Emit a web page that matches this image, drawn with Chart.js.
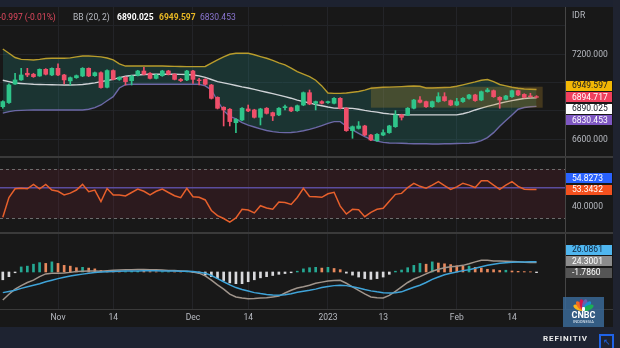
<!DOCTYPE html>
<html lang="en">
<head>
<meta charset="utf-8">
<title>IHSG - BB / RSI / MACD</title>
<script src="https://cdn.jsdelivr.net/npm/chart.js@4.4.1/dist/chart.umd.min.js"></script>
<style>
  html, body { margin: 0; padding: 0; background: #181818; }
  #wrap { position: relative; width: 620px; height: 348px; overflow: hidden; background: #181818;
          font-family: Roboto, "Noto Sans", sans-serif; }
  canvas { position: absolute; left: 0; }
  .blk { position: absolute; }
  #legend span { position: absolute; top: 12px; font-size: 8.5px; line-height: 10px; white-space: nowrap; }
  #idr { position: absolute; left: 572px; top: 10px; font-size: 8.5px; color: #b8bbc2; }
  #logo { position: absolute; left: 563px; top: 297px; width: 41px; height: 30px; background: rgba(58,104,150,0.85); }
  #fan i { position: absolute; left: 18px; top: 2px; width: 5px; height: 11px; border-radius: 50%; transform-origin: 50% 100%; }
  #fan b { position: absolute; left: 19px; top: 10px; width: 3px; height: 4px; background: #fff; border-radius: 1px; }
  #cnbc { position: absolute; left: 0; top: 14px; width: 41px; text-align: center; color: #fff; font-weight: bold; font-size: 9px; line-height: 9px; }
  #indo { position: absolute; left: 0; top: 23px; width: 41px; text-align: center; color: #e6edf5; font-size: 4px; line-height: 4px; }
  #refinitiv { position: absolute; left: 543px; top: 334px; color: #ececec; font-weight: bold; font-size: 8px; letter-spacing: 0.9px; }
  #corner { position: absolute; left: 599px; top: 334px; width: 11px; height: 12px; border: 2px solid #1f63e8; color: #1f63e8; font-size: 9px; line-height: 12px; text-align: center; }
</style>
</head>
<body>
<div id="wrap">
  <div class="blk" style="left:0;top:0;width:620px;height:7px;background:#1d2230"></div>
  <canvas id="cMain" width="620" height="149" style="top:7px"></canvas>
  <div class="blk" style="left:0;top:156px;width:613px;height:2px;background:#3a3a3a"></div>
  <canvas id="cRsi" width="620" height="74" style="top:158px"></canvas>
  <div class="blk" style="left:0;top:232px;width:613px;height:2px;background:#3a3a3a"></div>
  <canvas id="cMacd" width="620" height="93" style="top:234px"></canvas>
  <div class="blk" style="left:0;top:309px;width:613px;height:1px;background:#3a3a3a"></div>
  <div class="blk" style="left:0;top:327px;width:620px;height:21px;background:#1e2331"></div>
  <div class="blk" style="left:613px;top:0;width:7px;height:348px;background:#1f2330"></div>

  <div id="legend">
    <span style="left:-1px;color:#e2495f">-0.997 (-0.01%)</span>
    <span style="left:73px;color:#b8bbc2">BB (20, 2)</span>
    <span style="left:117px;color:#ffffff;font-weight:bold">6890.025</span>
    <span style="left:159px;color:#e9b824;font-weight:bold">6949.597</span>
    <span style="left:200px;color:#8b76d2">6830.453</span>
  </div>
  <div id="idr">IDR</div>

  <div id="logo">
    <div id="fan">
      <i style="background:#f9b51a;transform:rotate(-66deg)"></i>
      <i style="background:#f26b21;transform:rotate(-40deg)"></i>
      <i style="background:#d4154e;transform:rotate(-13deg)"></i>
      <i style="background:#6a5fab;transform:rotate(13deg)"></i>
      <i style="background:#1a8fd2;transform:rotate(40deg)"></i>
      <i style="background:#1cae55;transform:rotate(66deg)"></i>
      <b></b>
    </div>
    <div id="cnbc">CNBC</div>
    <div id="indo">INDONESIA</div>
  </div>
  <div id="refinitiv">REFINITIV</div>
  <div id="corner">↖</div>
</div>

<script>
// trading days shown on the chart
const dates = [
  '2022-10-19','2022-10-20','2022-10-21','2022-10-24','2022-10-25','2022-10-26','2022-10-27','2022-10-28','2022-10-31',
  '2022-11-01','2022-11-02','2022-11-03','2022-11-04','2022-11-07','2022-11-08','2022-11-09','2022-11-10','2022-11-11',
  '2022-11-14','2022-11-15','2022-11-16','2022-11-17','2022-11-18','2022-11-21','2022-11-22','2022-11-23','2022-11-24',
  '2022-11-25','2022-11-28','2022-11-29','2022-11-30',
  '2022-12-01','2022-12-02','2022-12-05','2022-12-06','2022-12-07','2022-12-08','2022-12-09','2022-12-12','2022-12-13',
  '2022-12-14','2022-12-15','2022-12-16','2022-12-19','2022-12-20','2022-12-21','2022-12-22','2022-12-23','2022-12-26',
  '2022-12-27','2022-12-28','2022-12-29','2022-12-30',
  '2023-01-02','2023-01-03','2023-01-04','2023-01-05','2023-01-06','2023-01-09','2023-01-10','2023-01-11','2023-01-12',
  '2023-01-13','2023-01-16','2023-01-17','2023-01-18','2023-01-19','2023-01-20','2023-01-24','2023-01-25','2023-01-26',
  '2023-01-27','2023-01-30','2023-01-31',
  '2023-02-01','2023-02-02','2023-02-03','2023-02-06','2023-02-07','2023-02-08','2023-02-09','2023-02-10','2023-02-13',
  '2023-02-14','2023-02-15','2023-02-16','2023-02-17','2023-02-20'
];
const tickDates  = ['2022-11-01','2022-11-14','2022-12-01','2022-12-14','2023-01-02','2023-01-13','2023-02-01','2023-02-14'];
const tickLabels = ['Nov','14','Dec','14','2023','13','Feb','14'];

const open = [
  6828,6857,6988,7017,7064,7057,7045,7092,7052,7099, 7052,7010,7033,7045,7099,7047,7068,6965,7083,7021,
  7035,7012,7050,7080,7064,7028,7047,7080,7057,7021, 7017,7080,7017,7021,6981,6894,6824,6810,6715,6734,
  6812,6805,6753,6817,6786,6770,6821,6821,6800,6840, 6927,6852,6864,6857,6852,6887,6817,6659,6675,6692,
  6628,6588,6628,6645,6687,6770,6770,6817,6875,6864, 6828,6864,6899,6871,6840,6864,6887,6911,6875,6934,
  6941,6894,6880,6899,6941,6915,6904,6899
];
const high = [
  6870,6990,7064,7099,7099,7064,7095,7097,7102,7130, 7057,7038,7052,7104,7102,7073,7075,7088,7088,7040,
  7040,7050,7085,7106,7068,7057,7085,7085,7061,7028, 7085,7085,7028,7026,6986,6898,6828,6815,6745,6822,
  6840,6810,6817,6822,6790,6822,6840,6826,6840,6932, 6946,6868,6870,6868,6892,6892,6822,6692,6723,6697,
  6633,6638,6664,6697,6800,6775,6822,6880,6899,6868, 6868,6927,6927,6875,6887,6892,6916,6916,6939,6958,
  6946,6899,6909,6946,6946,6920,6923,6906
];
const low = [
  6817,6852,6985,7014,7040,7035,7042,7052,7047,7047, 6988,6981,7028,7040,7040,7042,6958,6960,7017,7014,
  6981,6981,7045,7052,7024,7024,7042,7052,7017,7005, 7012,6993,6981,6981,6882,6812,6692,6692,6645,6729,
  6793,6748,6699,6776,6730,6765,6805,6793,6795,6835, 6842,6805,6847,6852,6847,6812,6654,6605,6670,6623,
  6588,6583,6623,6640,6682,6734,6765,6812,6854,6823, 6823,6859,6866,6835,6835,6859,6882,6866,6870,6930,
  6894,6817,6875,6894,6906,6890,6894,6890
];
const close = [
  6864,6981,7017,7052,7052,7040,7092,7057,7099,7052, 7017,7033,7047,7099,7045,7068,6963,7083,7021,7035,
  7005,7045,7080,7057,7028,7052,7080,7057,7021,7012, 7080,7021,7012,6986,6887,6817,6805,6723,6739,6817,
  6798,6753,6812,6781,6763,6817,6828,6798,6835,6927, 6847,6864,6852,6864,6887,6817,6659,6687,6692,6628,
  6593,6633,6645,6692,6770,6753,6817,6875,6859,6828, 6864,6899,6871,6840,6864,6887,6911,6871,6934,6946,
  6899,6875,6904,6941,6911,6894,6899,6894.717
];

// Bollinger Bands (20, 2)
const bbUpper = [
  7235,7205,7175,7162,7160,7158,7162,7168,7170,7170, 7170,7173,7180,7186,7186,7183,7180,7172,7158,7130,
  7115,7115,7115,7115,7115,7115,7115,7114,7113,7112, 7111,7111,7111,7112,7135,7158,7180,7198,7205,7206,
  7205,7195,7182,7170,7155,7138,7123,7100,7075,7058, 7040,7015,6975,6925,6922,6922,6925,6930,6935,6945,
  6958,6962,6965,6966,6968,6970,6972,6974,6972,6960, 6960,6962,6964,6965,6972,6982,6993,7003,7015,7020,
  7005,6985,6975,6965,6958,6953,6951,6949.597
];
const bbMid = [
  7015,7005,6995,6992,6989,6986,6985,6984,6983,6982, 6981,6981,6982,6985,6990,6996,7005,7013,7021,7033,
  7043,7048,7052,7055,7057,7057,7057,7057,7057,7056, 7055,7052,7046,7035,7020,7005,6996,6987,6978,6968,
  6960,6950,6940,6930,6920,6910,6899,6888,6874,6864, 6855,6843,6835,6826,6818,6817,6817,6816,6810,6802,
  6795,6790,6782,6777,6773,6770,6770,6770,6770,6770, 6770,6770,6770,6770,6770,6778,6790,6805,6818,6830,
  6841,6852,6862,6871,6879,6886,6889,6890.025
];
const bbLower = [
  6783,6793,6800,6802,6804,6805,6805,6805,6805,6805, 6805,6805,6805,6805,6810,6822,6840,6870,6899,6960,
  6983,6986,6986,6986,6986,6986,6986,6986,6986,6986, 6986,6986,6986,6975,6946,6870,6800,6760,6742,6715,
  6698,6685,6672,6660,6652,6647,6645,6646,6650,6658, 6668,6680,6695,6710,6723,6723,6690,6664,6640,6617,
  6597,6585,6576,6572,6571,6570,6568,6567,6566,6566, 6565,6565,6566,6567,6568,6569,6570,6575,6588,6610,
  6645,6690,6730,6770,6810,6822,6828,6830.453
];

// RSI pane
const rsi = [
  31,47,54,54.5,54,57.5,54,57.6,53,52, 49,50.5,53,57.6,51.7,53,43.6,54.2,49,49,
  48.2,51,53.8,52,49,52,53.8,51,48.4,46.8, 54.4,47.6,47.1,45,36.5,32.3,30,27,30.5,37.5,
  36.9,34.5,40.3,38.5,37.5,43.3,43,41.4,47,54.4, 47.8,47.6,47.1,50,51.2,40,33.6,37.4,37,31.5,
  35,37.4,38.2,44,49.5,50.3,55,58.4,56,54.5, 57,59.8,56.5,53.5,55.5,58.5,57,55,60.5,60.6,
  57,53.6,57,59.8,56,53.6,53.4,53.3432
];
const rsiMa = 54.8273;
const rsiBand = [30, 70];

// MACD pane
const macd = [
  -72,-57,-44,-35,-27,-21,-12,-5,-3,-3, -2.5,-1,1,2,2.5,2.6,2,3.5,4.3,5,
  5.5,6,6.5,6.5,6,5.5,5,4,3.5,2.6, 2,0,-3,-10,-21,-33,-44,-57,-64,-67,
  -68.5,-68,-67,-66,-64,-62,-54,-47,-41,-38, -34,-29,-26,-23,-22,-21.4,-29,-38,-47,-56,
  -64,-66,-66.7,-60,-50,-38,-27,-18,-12,-5, 2,7,11,13.5,15,17,21,26,30,30,
  28.5,28,27.5,27,26,25,24.5,24.3001
];
const signal = [
  -53,-50,-47,-42,-38,-34,-30,-25,-21,-17, -13.5,-10.5,-8,-5.5,-3.5,-1.5,0,0.8,1.5,2,
  2.4,2.6,2.8,3,3,3,2.8,2.6,2.4,2.1, 1.8,1,-0.5,-3,-9,-17,-25,-33,-40,-45,
  -49,-53,-55.5,-57.5,-59,-59.8,-58.5,-56,-52,-49.5, -47,-44,-40,-37,-35,-34.2,-35,-38,-41,-45,
  -48.5,-51,-53,-54,-53,-51,-45,-39,-34,-27, -19,-13,-7,-3,0,3.5,6,9.5,13.5,17.5,
  20,22.5,24,25,25.7,25.9,26,26.0861
];
const hist = [
  -20,-12,-2,13,15,20,24,22,26,22, 17,15,11,12,10,8,4,2,1.5,1,
  1,1.5,2,1.5,1,0.5,0.5,0.5,0.3,0.2, 0.2,-1,-3,-8,-12,-17,-22,-28,-30,-30,
  -25,-20,-15,-12,-9,-6,-4,-2,2,8, 11,12,10,12,9,6,-3,-8,-13,-17,
  -19,-17,-13,-6,2,5,11,17,22,20, 26,23,21,19,16,14.5,15,12,10,7,
  6,4,4.5,2.6,1.7,1,0.5,-1.786
];

// highlighted box on the price pane
const zoneStart = '2023-01-11';
const zoneBars = 28;
const zonePrices = [6821, 6969];

// axis ticks
const priceGrid = [7400, 7200, 7000, 6800, 6600];
const priceLabeled = [7200, 6600];
const rsiLabeled = [40];

const FONT = 'Roboto, "Noto Sans", sans-serif';
Chart.defaults.font.family = FONT;

const last = dates.length - 1;
const xMin = -0.456, xMax = 91.64;
const pts = arr => arr.map((v, i) => ({ x: i, y: v }));
const candleColor = close.map((c, i) => c >= open[i] ? '#2fc48a' : '#ef4f6a');
const histColor = hist.map((v, i) => v < 0 ? '#d9d9dc' : (i > 0 && v < hist[i - 1] ? '#e8895d' : '#25a893'));

function xAxis(showLabels) {
  return {
    type: 'linear', min: xMin, max: xMax, offset: false,
    afterBuildTicks: s => { s.ticks = tickDates.map(d => ({ value: dates.indexOf(d) })); },
    afterFit: s => { s.height = showLabels ? 18 : 0; },
    ticks: {
      display: showLabels, autoSkip: false, maxRotation: 0, padding: 4,
      color: '#b8bbc2', font: { size: 8.5 },
      callback: v => tickLabels[tickDates.indexOf(dates[v])]
    },
    grid: { color: '#232428', drawTicks: false, offset: false },
    border: { display: false }
  };
}

// labels are painted by the tags plugin so the axis adds no padding
function rightAxis(min, max, ticks, showGrid) {
  return {
    position: 'right', min, max,
    afterBuildTicks: s => { s.ticks = ticks.map(v => ({ value: v })); },
    afterFit: s => { s.width = 55; },
    ticks: { display: false },
    grid: { display: showGrid, color: '#222428', drawTicks: false },
    border: { display: true, color: '#454545', width: 1 }
  };
}

// axis labels + coloured value boxes, boxes pushed apart around the anchor one
const tagPlugin = {
  id: 'tags',
  afterDraw(chart, args, opts) {
    const { ctx, chartArea } = chart;
    const y = chart.scales.y;
    ctx.save();
    ctx.font = '8.5px ' + FONT;
    ctx.textBaseline = 'middle';
    ctx.fillStyle = '#b8bbc2';
    (opts.labels || []).forEach(v => {
      ctx.fillText(v.toFixed(opts.digits), chartArea.right + 7, y.getPixelForValue(v) + 0.5);
    });
    const items = opts.items.map(t => Object.assign({}, t, { py: y.getPixelForValue(t.value) }));
    const a = items[opts.anchor];
    let prev = a.py;
    items.filter(t => t !== a && t.py <= a.py).sort((p, q) => q.py - p.py)
      .forEach(t => { t.py = Math.min(t.py, prev - opts.gap); prev = t.py; });
    prev = a.py;
    items.filter(t => t !== a && t.py > a.py).sort((p, q) => p.py - q.py)
      .forEach(t => { t.py = Math.max(t.py, prev + opts.gap); prev = t.py; });
    items.forEach(t => {
      ctx.fillStyle = t.bg;
      ctx.fillRect(chartArea.right + 1, Math.round(t.py - 5), 46, 10);
      ctx.fillStyle = t.fg;
      ctx.fillText(t.value.toFixed(opts.digits), chartArea.right + 7, t.py + 0.5);
    });
    ctx.restore();
  }
};

const zonePlugin = {
  id: 'zone',
  beforeDatasetDraw(chart, args) {
    if (args.index !== 3) return;
    const { ctx, scales: { x, y } } = chart;
    const i0 = dates.indexOf(zoneStart);
    const x0 = x.getPixelForValue(i0), x1 = x.getPixelForValue(i0 + zoneBars);
    const y0 = y.getPixelForValue(zonePrices[1]), y1 = y.getPixelForValue(zonePrices[0]);
    ctx.save();
    ctx.fillStyle = 'rgba(190,145,45,0.27)';
    ctx.fillRect(x0, y0, x1 - x0, y1 - y0);
    ctx.restore();
  }
};

const rsiBandPlugin = {
  id: 'rsiBand',
  beforeDatasetsDraw(chart) {
    const { ctx, chartArea: a, scales: { y } } = chart;
    const top = y.getPixelForValue(rsiBand[1]), bot = y.getPixelForValue(rsiBand[0]);
    ctx.save();
    ctx.fillStyle = 'rgba(150,40,60,0.16)';
    ctx.fillRect(a.left, top, a.right - a.left, bot - top);
    ctx.strokeStyle = '#6d6d6d';
    ctx.lineWidth = 1;
    ctx.setLineDash([3, 3]);
    [top, bot].forEach(p => {
      ctx.beginPath();
      ctx.moveTo(a.left, Math.round(p) + 0.5);
      ctx.lineTo(a.right, Math.round(p) + 0.5);
      ctx.stroke();
    });
    ctx.setLineDash([]);
    const m = y.getPixelForValue(rsiMa);
    ctx.strokeStyle = '#5b4c9e';
    ctx.lineWidth = 1.5;
    ctx.beginPath();
    ctx.moveTo(a.left, m);
    ctx.lineTo(a.right, m);
    ctx.stroke();
    ctx.restore();
  }
};

const baseOpts = {
  responsive: false,
  animation: false,
  layout: { padding: 0, autoPadding: false },
  plugins: { legend: { display: false }, tooltip: { enabled: false }, filler: { drawTime: 'beforeDatasetsDraw' } }
};

// price + bollinger
new Chart(document.getElementById('cMain'), {
  type: 'bar',
  data: {
    datasets: [
      { type: 'line', data: pts(bbUpper), borderColor: '#b89c2c', borderWidth: 1.4, pointRadius: 0,
        fill: '+2', backgroundColor: 'rgba(38,166,154,0.2)', order: 3 },
      { type: 'line', data: pts(bbMid), borderColor: '#cfd2d6', borderWidth: 1.4, pointRadius: 0, fill: false, order: 3 },
      { type: 'line', data: pts(bbLower), borderColor: '#6c68a6', borderWidth: 1.4, pointRadius: 0, fill: false, order: 3 },
      { data: dates.map((d, i) => ({ x: i, y: [low[i], high[i]] })), backgroundColor: candleColor,
        barThickness: 1, grouped: false, order: 2 },
      { data: dates.map((d, i) => ({ x: i, y: [open[i], close[i]] })), backgroundColor: candleColor,
        barThickness: 4, grouped: false, order: 1 }
    ]
  },
  options: Object.assign({}, baseOpts, {
    plugins: Object.assign({}, baseOpts.plugins, {
      tags: {
        anchor: 1, gap: 11.5, digits: 3, labels: priceLabeled,
        items: [
          { value: bbUpper[last], bg: '#f2b705', fg: '#131722' },
          { value: close[last], bg: '#f0405e', fg: '#ffffff' },
          { value: bbMid[last], bg: '#ffffff', fg: '#131722' },
          { value: bbLower[last], bg: '#7e57c2', fg: '#ffffff' }
        ]
      }
    }),
    scales: {
      x: xAxis(false),
      y: rightAxis(6480.0, 7531.8, priceGrid, true)
    }
  }),
  plugins: [zonePlugin, tagPlugin]
});

// RSI
new Chart(document.getElementById('cRsi'), {
  type: 'line',
  data: {
    datasets: [
      { data: pts(rsi), borderColor: '#e7602c', borderWidth: 1.5, pointRadius: 0, fill: false }
    ]
  },
  options: Object.assign({}, baseOpts, {
    plugins: Object.assign({}, baseOpts.plugins, {
      tags: {
        anchor: 1, gap: 11.3, digits: 4, labels: rsiLabeled,
        items: [
          { value: rsiMa, bg: '#2962ff', fg: '#ffffff' },
          { value: rsi[last], bg: '#f4511e', fg: '#ffffff' }
        ]
      }
    }),
    scales: {
      x: xAxis(false),
      y: rightAxis(19.09, 78.89, [], false)
    }
  }),
  plugins: [rsiBandPlugin, tagPlugin]
});

// MACD
new Chart(document.getElementById('cMacd'), {
  type: 'bar',
  data: {
    datasets: [
      { type: 'line', data: pts(signal), borderColor: '#3fa3d8', borderWidth: 1.5, pointRadius: 0, fill: false, order: 1 },
      { type: 'line', data: pts(macd), borderColor: '#a0958c', borderWidth: 1.5, pointRadius: 0, fill: false, order: 1 },
      { data: pts(hist), backgroundColor: histColor, barThickness: 2, grouped: false, order: 2 }
    ]
  },
  options: Object.assign({}, baseOpts, {
    plugins: Object.assign({}, baseOpts.plugins, {
      tags: {
        anchor: 2, gap: 11.5, digits: 4,
        items: [
          { value: signal[last], bg: '#4fb6ef', fg: '#10243d' },
          { value: macd[last], bg: '#8c8c8c', fg: '#ffffff' },
          { value: hist[last], bg: '#555555', fg: '#ffffff' }
        ]
      }
    }),
    scales: {
      x: xAxis(true),
      y: rightAxis(-95, 97.5, [], false)
    }
  }),
  plugins: [tagPlugin]
});
</script>
</body>
</html>
